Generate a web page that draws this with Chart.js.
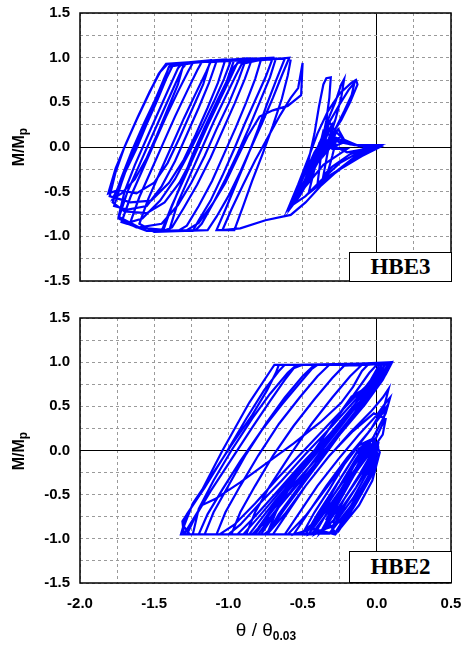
<!DOCTYPE html>
<html>
<head>
<meta charset="utf-8">
<script src="https://cdn.jsdelivr.net/npm/chart.js@4/dist/chart.umd.min.js"></script>
<style>
  body { margin: 0; width: 462px; height: 645px; position: relative; background: #fff; overflow: hidden;
         font-family: "Liberation Sans", Arial, sans-serif; }
  .wrap { position: absolute; left: 0; width: 462px; }
  .wrap canvas { display: block; }
  .ytitle { position: absolute; width: 70px; height: 20px; line-height: 20px; text-align: center;
            font-weight: bold; font-size: 16px; transform: rotate(-90deg); }
  .ytitle sub { font-size: 12px; vertical-align: -3px; }
  .tag { position: absolute; left: 349px; width: 103px; box-sizing: border-box; border: 1.5px solid #000;
         background: #fff; text-align: center; font: bold 23px "Liberation Serif", "Times New Roman", serif; }
  .xtitle { position: absolute; left: 166px; width: 200px; top: 619px; text-align: center; font-size: 19px; }
  .xtitle sub { font-size: 12px; font-weight: bold; vertical-align: -4px; }
</style>
</head>
<body>
<div class="wrap" style="top:0;height:300px"><canvas id="hbe3" width="462" height="300"></canvas></div>
<div class="wrap" style="top:300px;height:345px"><canvas id="hbe2" width="462" height="345"></canvas></div>
<div class="ytitle" style="left:-16px;top:137px">M/M<sub>p</sub></div>
<div class="ytitle" style="left:-16px;top:441px">M/M<sub>p</sub></div>
<div class="tag" id="tag3" style="top:252px;height:30px;line-height:28px"></div>
<div class="tag" id="tag2" style="top:551px;height:32px;line-height:30px"></div>
<div class="xtitle">θ / θ<sub>0.03</sub></div>
<script>
// axis ranges and ticks
const xRange = [-2.0, 0.5];
const yRange = [-1.5, 1.5];
const gridStep = 0.25;
const labelStep = 0.5;
const panelNames = ['HBE3', 'HBE2'];

// HBE3: theta/theta0.03 vs M/Mp (small cycles first)
const hbe3Early = [
  [0.03,0.01],[-0.06,0.00],[-0.18,-0.08],[-0.30,-0.22],[-0.36,-0.32],[-0.33,-0.05],[-0.30,0.12],[-0.26,0.20],[-0.22,0.08],[-0.12,0.01],[0.00,0.01],
  [-0.14,-0.10],[-0.28,-0.28],[-0.40,-0.42],[-0.38,-0.15],[-0.35,0.10],[-0.32,0.28],[-0.28,0.18],[-0.20,0.04],[-0.08,0.00],[0.02,0.00],
  [-0.10,-0.10],[-0.22,-0.22],[-0.34,-0.34],[-0.30,-0.10],[-0.27,0.10],[-0.18,0.03],[-0.06,0.01],[0.02,0.01],
  [-0.16,-0.14],[-0.32,-0.34],[-0.46,-0.52],[-0.42,-0.25],[-0.38,0.05],[-0.33,0.30],[-0.28,0.50],[-0.24,0.70],[-0.22,0.76],[-0.24,0.55],[-0.28,0.30],[-0.32,0.10],[-0.38,-0.10],[-0.45,-0.35],[-0.52,-0.55],[-0.58,-0.68],
  [-0.52,-0.45],[-0.46,-0.15],[-0.42,0.15],[-0.39,0.45],[-0.36,0.70],[-0.34,0.77],[-0.31,0.78],[-0.32,0.55],[-0.34,0.30],[-0.37,0.05],[-0.42,-0.20],[-0.50,-0.45],[-0.58,-0.66],[-0.60,-0.70],
  [-0.53,-0.42],[-0.46,-0.12],[-0.40,0.15],[-0.33,0.40],[-0.25,0.60],[-0.17,0.72],[-0.14,0.75],[-0.13,0.70],[-0.18,0.50],[-0.24,0.30],[-0.30,0.15],[-0.26,0.06],[-0.15,0.02],[0.02,0.02],
  [-0.12,-0.06],[-0.25,-0.18],[-0.38,-0.38],[-0.48,-0.55],[-0.56,-0.64],[-0.48,-0.35],[-0.41,-0.05],[-0.34,0.22],[-0.26,0.45],[-0.19,0.64],[-0.15,0.72],[-0.17,0.58],[-0.22,0.40],[-0.28,0.20],[-0.34,0.05],[-0.30,-0.02],[-0.20,-0.02],[-0.36,-0.20],[-0.46,-0.40],[-0.56,-0.60],[-0.60,-0.72],
  [-0.52,-0.50],[-0.44,-0.22],[-0.36,0.10],[-0.30,0.22],[-0.34,0.00],[-0.40,-0.18],[-0.34,0.16],[-0.28,0.08],[-0.36,-0.08],[-0.44,-0.28],[-0.52,-0.52],[-0.60,-0.70],
  [-0.50,-0.36],[-0.42,-0.06],[-0.32,0.20],[-0.36,0.02],[-0.28,0.14],[-0.34,-0.06],[-0.26,0.10],[-0.38,0.06],[-0.30,0.24],[-0.33,-0.02],[-0.24,0.04],[-0.36,0.18],[-0.40,-0.10],[-0.30,0.02],[-0.20,-0.06],[-0.10,-0.03],[0.00,0.00],
  [-0.12,-0.12],[-0.26,-0.26],[-0.38,-0.44],[-0.48,-0.62],[-0.58,-0.76],
  [-0.75,-0.82],[-0.92,-0.91],[-1.04,-0.93]
];
// HBE3: large cycles drifting to the left
const hbe3Late = [
  [-0.98,-0.70],[-0.90,-0.42],[-0.82,-0.15],[-0.73,0.12],[-0.65,0.36],[-0.58,0.55],[-0.53,0.66],[-0.50,0.94],[-0.51,0.58],
  [-0.60,0.46],[-0.70,0.41],[-0.79,0.34],[-0.87,0.12],[-0.94,-0.12],[-1.02,-0.40],[-1.10,-0.62],[-1.20,-0.85],[-1.28,-0.93],[-1.45,-0.94],
  [-1.38,-0.65],[-1.30,-0.36],[-1.22,-0.06],[-1.14,0.24],[-1.06,0.52],[-0.99,0.76],[-0.94,0.94],[-0.80,0.97],[-0.65,0.99],[-0.59,1.00],
  [-0.64,0.80],[-0.70,0.55],[-0.77,0.28],[-0.84,0.02],[-0.92,-0.28],[-1.00,-0.55],[-1.08,-0.78],[-1.14,-0.93],[-1.50,-0.95],
  [-1.60,-0.86],[-1.54,-0.58],[-1.46,-0.28],[-1.38,0.02],[-1.30,0.32],[-1.22,0.60],[-1.15,0.84],[-1.12,0.95],[-0.90,0.98],[-0.70,1.00],
  [-0.75,0.78],[-0.82,0.52],[-0.89,0.26],[-0.96,-0.02],[-1.04,-0.32],[-1.12,-0.60],[-1.20,-0.82],[-1.24,-0.94],[-1.40,-0.94],
  [-1.34,-0.62],[-1.26,-0.32],[-1.18,-0.02],[-1.10,0.28],[-1.02,0.56],[-0.95,0.80],[-0.91,0.93],[-0.80,0.97],[-0.68,0.99],
  [-0.72,0.78],[-0.79,0.50],[-0.86,0.22],[-0.94,-0.08],[-1.02,-0.36],[-1.10,-0.62],[-1.18,-0.86],[-1.22,-0.93],[-1.55,-0.94],
  [-1.68,-0.86],[-1.72,-0.84],
  [-1.66,-0.56],[-1.58,-0.26],[-1.50,0.04],[-1.42,0.34],[-1.34,0.62],[-1.27,0.85],[-1.24,0.94],[-1.05,0.97],[-0.88,0.99],
  [-0.93,0.76],[-1.00,0.48],[-1.08,0.20],[-1.16,-0.10],[-1.25,-0.40],[-1.34,-0.65],[-1.45,-0.86],[-1.60,-0.90],[-1.74,-0.78],
  [-1.70,-0.50],[-1.63,-0.20],[-1.55,0.10],[-1.47,0.40],[-1.40,0.66],[-1.34,0.88],[-1.31,0.94],[-1.10,0.96],[-0.96,0.98],
  [-1.01,0.74],[-1.08,0.46],[-1.16,0.18],[-1.24,-0.12],[-1.33,-0.40],[-1.43,-0.62],[-1.55,-0.74],[-1.70,-0.72],[-1.78,-0.62],
  [-1.72,-0.34],[-1.65,-0.04],[-1.57,0.26],[-1.49,0.54],[-1.43,0.78],[-1.39,0.93],[-1.20,0.96],[-1.02,0.98],
  [-1.07,0.72],[-1.14,0.44],[-1.22,0.14],[-1.30,-0.14],[-1.40,-0.40],[-1.52,-0.60],[-1.66,-0.62],[-1.80,-0.55],
  [-1.76,-0.28],[-1.70,0.00],[-1.62,0.30],[-1.54,0.58],[-1.47,0.82],[-1.42,0.93],[-1.25,0.95],[-1.12,0.97],
  [-1.17,0.70],[-1.25,0.40],[-1.33,0.10],[-1.41,-0.18],[-1.50,-0.40],[-1.62,-0.52],[-1.74,-0.48],[-1.81,-0.52],
  [-1.76,-0.24],[-1.69,0.04],[-1.61,0.34],[-1.53,0.62],[-1.46,0.84],[-1.41,0.93],[-1.30,0.94],
  [-1.34,0.70],[-1.41,0.42],[-1.48,0.14],[-1.55,-0.12],[-1.63,-0.36],[-1.72,-0.52],[-1.78,-0.58],
  [-1.70,-0.30],[-1.62,-0.02],[-1.55,0.26],[-1.48,0.52],[-1.42,0.76],[-1.37,0.93],[-1.15,0.96],[-0.98,0.98],
  [-1.03,0.76],[-1.10,0.50],[-1.18,0.22],[-1.27,-0.08],[-1.36,-0.36],[-1.46,-0.60],[-1.58,-0.80],[-1.66,-0.84],
  [-1.60,-0.56],[-1.52,-0.26],[-1.44,0.04],[-1.36,0.34],[-1.28,0.62],[-1.21,0.86],[-1.18,0.95],[-0.95,0.98],[-0.84,0.99],
  [-0.89,0.76],[-0.96,0.48],[-1.04,0.18],[-1.12,-0.12],[-1.21,-0.42],[-1.30,-0.68],[-1.38,-0.90],[-1.44,-0.94],
  [-1.38,-0.66],[-1.31,-0.38],[-1.24,-0.08],[-1.16,0.22],[-1.08,0.50],[-1.01,0.74],[-0.96,0.90],[-0.93,0.95],[-0.78,0.98],
  [-0.82,0.76],[-0.88,0.50],[-0.95,0.22],[-1.03,-0.08],[-1.11,-0.38],[-1.20,-0.66],[-1.28,-0.88],[-1.34,-0.94],[-1.62,-0.90],
  [-1.74,-0.80],[-1.68,-0.50],[-1.60,-0.20],[-1.52,0.10],[-1.44,0.40],[-1.37,0.66],[-1.31,0.88],[-1.28,0.94],[-1.08,0.96],
  [-1.13,0.72],[-1.20,0.44],[-1.28,0.14],[-1.36,-0.16],[-1.45,-0.44],[-1.55,-0.66],[-1.68,-0.70],[-1.77,-0.66],
  [-1.72,-0.40],[-1.66,-0.12],[-1.58,0.18],[-1.50,0.48],[-1.44,0.72],[-1.40,0.90],[-1.20,0.95],[-0.62,0.99],
  [-0.68,0.74],[-0.74,0.48],[-0.80,0.20],[-0.87,-0.10],[-0.95,-0.42],[-1.02,-0.70],[-1.08,-0.93],[-0.96,-0.93],
  [-0.90,-0.66],[-0.84,-0.38],[-0.77,-0.08],[-0.70,0.24],[-0.64,0.54],[-0.60,0.80],[-0.58,0.98]
];

// HBE2: dense small cycles near the origin
const hbe2Early = [
  [0.00,0.00],[-0.06,-0.20],[-0.14,-0.42],[-0.24,-0.66],[-0.30,-0.82],[-0.22,-0.55],[-0.12,-0.28],[-0.04,-0.05],[0.01,0.06],
  [-0.08,-0.20],[-0.20,-0.50],[-0.32,-0.80],[-0.36,-0.90],[-0.26,-0.60],[-0.16,-0.30],[-0.08,-0.06],[-0.02,0.10],
  [-0.04,-0.12],[-0.14,-0.42],[-0.26,-0.74],[-0.38,-0.93],[-0.28,-0.62],[-0.18,-0.32],[-0.10,-0.08],[-0.05,0.10],
  [0.00,-0.10],[-0.08,-0.40],[-0.20,-0.72],[-0.28,-0.93],[-0.34,-0.78],[-0.24,-0.48],[-0.14,-0.20],[-0.06,0.04],[0.01,0.08],
  [-0.02,-0.18],[-0.12,-0.48],[-0.24,-0.80],[-0.42,-0.95],[-0.32,-0.66],[-0.22,-0.38],[-0.13,-0.10],[-0.06,0.08],[0.00,0.04],
  [-0.06,-0.24],[-0.16,-0.54],[-0.30,-0.86],[-0.46,-0.95],[-0.36,-0.68],[-0.25,-0.40],[-0.15,-0.12],[-0.08,0.06],[-0.03,0.12],
  [0.01,-0.06],[-0.04,-0.30],[-0.14,-0.60],[-0.26,-0.92],[-0.48,-0.95],[-0.40,-0.72],[-0.30,-0.46],[-0.20,-0.20],[-0.12,0.02],[-0.04,0.12],[0.01,0.04],
  [-0.06,-0.30],[-0.18,-0.64],[-0.32,-0.94],[-0.50,-0.94],[-0.42,-0.70],[-0.32,-0.44],[-0.22,-0.16],[-0.12,0.06],[-0.02,0.14],[0.02,-0.02],
  [-0.03,-0.34],[-0.12,-0.62],[-0.28,-0.95],[-0.44,-0.88],[-0.34,-0.60],[-0.24,-0.30],[-0.14,-0.04],[-0.05,0.10]
];
// HBE2: medium cycles reaching the right-hand peaks
const hbe2Mid = [
  [-0.14,-0.20],[-0.30,-0.58],[-0.46,-0.90],[-0.56,-0.95],[-0.46,-0.70],[-0.34,-0.40],[-0.20,-0.08],[-0.06,0.20],[0.03,0.40],[0.06,0.48],[0.04,0.30],[-0.04,0.02],[-0.16,-0.30],[-0.32,-0.68],[-0.44,-0.95],[-0.62,-0.95],
  [-0.52,-0.70],[-0.40,-0.40],[-0.26,-0.10],[-0.12,0.18],[0.00,0.40],[0.06,0.54],[0.09,0.60],[0.06,0.42],[-0.02,0.16],[-0.14,-0.14],[-0.28,-0.48],[-0.44,-0.84],[-0.52,-0.95],[-0.70,-0.95],
  [-0.60,-0.70],[-0.48,-0.40],[-0.34,-0.10],[-0.18,0.20],[-0.04,0.44],[0.04,0.60],[0.08,0.70],[0.05,0.50],[-0.04,0.24],[-0.18,-0.06],[-0.32,-0.38],[-0.48,-0.74],[-0.60,-0.95],[-0.74,-0.95],
  [-0.62,-0.72],[-0.48,-0.40],[-0.32,-0.06],[-0.16,0.22],[-0.02,0.42],[0.06,0.36],[0.04,0.18],[-0.06,-0.06],[-0.20,-0.38],[-0.36,-0.72],[-0.46,-0.95],[-0.74,-0.95]
];
// HBE2: large cycles between the plateaus
const hbe2Late = [
  [-0.68,-0.70],[-0.58,-0.40],[-0.44,-0.05],[-0.30,0.30],[-0.16,0.62],[-0.05,0.88],[0.00,0.97],[0.08,0.98],
  [0.04,0.84],[-0.06,0.62],[-0.20,0.32],[-0.36,-0.02],[-0.52,-0.40],[-0.66,-0.72],[-0.74,-0.95],[-0.88,-0.95],
  [-0.82,-0.70],[-0.72,-0.40],[-0.58,-0.04],[-0.44,0.30],[-0.30,0.60],[-0.18,0.84],[-0.10,0.97],[0.06,0.98],[0.10,1.00],
  [0.06,0.86],[-0.04,0.64],[-0.18,0.34],[-0.32,0.02],[-0.48,-0.34],[-0.62,-0.66],[-0.72,-0.90],[-0.76,-0.95],[-0.98,-0.95],
  [-0.92,-0.70],[-0.82,-0.40],[-0.70,-0.06],[-0.56,0.28],[-0.42,0.58],[-0.30,0.82],[-0.22,0.96],[0.02,0.98],[0.08,0.99],
  [0.02,0.82],[-0.10,0.58],[-0.24,0.28],[-0.40,-0.06],[-0.56,-0.42],[-0.70,-0.72],[-0.80,-0.95],[-1.08,-0.95],
  [-1.02,-0.70],[-0.92,-0.40],[-0.80,-0.06],[-0.66,0.30],[-0.52,0.60],[-0.40,0.84],[-0.32,0.97],[0.00,0.98],[0.10,0.99],
  [0.04,0.80],[-0.08,0.52],[-0.24,0.20],[-0.42,-0.12],[-0.60,-0.46],[-0.74,-0.76],[-0.82,-0.95],[-1.16,-0.95],
  [-1.10,-0.70],[-1.00,-0.40],[-0.88,-0.04],[-0.74,0.32],[-0.62,0.60],[-0.50,0.84],[-0.42,0.97],[-0.10,0.98],[0.06,0.99],
  [0.00,0.80],[-0.12,0.54],[-0.28,0.22],[-0.46,-0.10],[-0.64,-0.44],[-0.80,-0.76],[-0.90,-0.95],[-1.24,-0.95],
  [-1.20,-0.66],[-1.10,-0.34],[-0.98,0.00],[-0.84,0.36],[-0.72,0.64],[-0.60,0.88],[-0.54,0.97],[-0.20,0.98],[0.04,0.99],
  [-0.02,0.78],[-0.16,0.50],[-0.32,0.18],[-0.50,-0.14],[-0.68,-0.48],[-0.84,-0.78],[-0.94,-0.95],[-1.30,-0.95],
  [-1.31,-0.80],[-1.20,-0.52],[-1.04,0.00],[-0.86,0.54],[-0.71,0.92],[-0.69,0.97],[-0.30,0.97],[0.10,1.00],
  [0.04,0.82],[-0.17,0.61],[-0.30,0.30],[-0.42,0.00],[-0.54,-0.28],[-0.64,-0.56],[-0.72,-0.80],[-0.78,-0.95],[-1.32,-0.95],
  [-1.28,-0.72],[-1.16,-0.42],[-1.02,-0.04],[-0.88,0.36],[-0.76,0.68],[-0.66,0.90],[-0.62,0.97],[-0.20,0.97],[0.06,0.98],
  [0.00,0.84],[-0.14,0.62],[-0.30,0.34],[-0.48,0.02],[-0.66,-0.30],[-0.82,-0.60],[-0.96,-0.84],[-1.06,-0.95],[-1.30,-0.95],
  [-1.18,-0.62],[-1.09,-0.55],[-0.92,-0.36],[-0.74,-0.14],[-0.56,0.08],[-0.38,0.32],[-0.24,0.54],[-0.16,0.72],[-0.10,0.90],[-0.06,0.97],[0.02,0.98],
  [-0.04,0.80],[-0.14,0.58],[-0.30,0.28],[-0.48,-0.04],[-0.64,-0.34],[-0.80,-0.62],[-0.92,-0.84],[-1.00,-0.95],[-1.28,-0.95],
  [-1.22,-0.74],[-1.12,-0.46],[-0.98,-0.10],[-0.84,0.26],[-0.72,0.56],[-0.62,0.80],[-0.56,0.93],[-0.50,0.97],[-0.10,0.98],[0.08,0.99],
  [0.05,0.88],[-0.02,0.70],[-0.12,0.46],[-0.26,0.16],[-0.42,-0.16],[-0.58,-0.48],[-0.72,-0.76],[-0.84,-0.95],[-1.20,-0.95],
  [-1.14,-0.72],[-1.04,-0.44],[-0.92,-0.12],[-0.78,0.22],[-0.64,0.52],[-0.52,0.76],[-0.44,0.92],[-0.40,0.97],[0.04,0.98],
  [0.00,0.88],[-0.08,0.68],[-0.20,0.40],[-0.36,0.08],[-0.52,-0.24],[-0.68,-0.56],[-0.80,-0.82],[-0.86,-0.95],[-1.26,-0.95],
  [-1.30,-0.86],[-1.24,-0.60],[-1.12,-0.30],[-0.98,0.06],[-0.84,0.40],[-0.74,0.68],[-0.68,0.88],[-0.66,0.97],[-0.20,0.97],[0.10,0.99],
  [0.06,0.86],[-0.08,0.60],[-0.24,0.30],[-0.40,-0.02],[-0.56,-0.34],[-0.70,-0.64],[-0.80,-0.88],[-0.84,-0.95]
];

const toXY = (pts) => pts.map(([x, y]) => ({ x, y }));
const onLabelStep = (v) => Math.abs(v / labelStep - Math.round(v / labelStep)) < 1e-6;
const isZero = (ctx) => ctx.tick && Math.abs(ctx.tick.value) < 1e-9;

const frame = {
  id: 'frame',
  afterDraw(chart) {
    const { ctx, chartArea: a } = chart;
    ctx.save();
    ctx.strokeStyle = '#000';
    ctx.lineWidth = 1.5;
    ctx.strokeRect(a.left, a.top, a.right - a.left, a.bottom - a.top);
    ctx.restore();
  }
};

// keep the plot area where the layout padding puts it
const noLabelPad = (s) => { s.paddingLeft = 0; s.paddingRight = 0; s.paddingTop = 0; s.paddingBottom = 0; };

function makeChart(id, points, topPad, xAxisHeight, showXLabels) {
  const gridOpts = {
    drawTicks: false,
    color: (ctx) => (isZero(ctx) ? '#000' : '#9a9a9a'),
    lineWidth: 1,
  };
  const borderOpts = { display: false, dash: (ctx) => (isZero(ctx) ? [] : [3, 3]) };
  const tickFont = { family: '"Liberation Sans", Arial, sans-serif', size: 15, weight: 'bold' };
  return new Chart(document.getElementById(id), {
    type: 'scatter',
    data: {
      datasets: [{
        data: toXY(points),
        showLine: true,
        borderColor: '#0000ff',
        borderWidth: 2.2,
        pointRadius: 0,
        tension: 0,
      }],
    },
    options: {
      responsive: false,
      animation: false,
      devicePixelRatio: 1,
      layout: { padding: { top: topPad, right: 11, left: 0, bottom: 0 } },
      plugins: { legend: { display: false }, tooltip: { enabled: false } },
      scales: {
        x: {
          type: 'linear', min: xRange[0], max: xRange[1],
          afterFit: (s) => { s.height = xAxisHeight; noLabelPad(s); },
          grid: gridOpts, border: borderOpts,
          ticks: {
            display: showXLabels, stepSize: gridStep, autoSkip: false, maxRotation: 0,
            padding: 12, color: '#000', font: tickFont,
            callback: (v) => (onLabelStep(v) ? Number(v).toFixed(1) : ''),
          },
        },
        y: {
          type: 'linear', min: yRange[0], max: yRange[1],
          afterFit: (s) => { s.width = 80; noLabelPad(s); },
          grid: gridOpts, border: borderOpts,
          ticks: {
            stepSize: gridStep, autoSkip: false, padding: 10, color: '#000', font: tickFont,
            callback: (v) => (onLabelStep(v) ? Number(v).toFixed(1) : ''),
          },
        },
      },
    },
    plugins: [frame],
  });
}

makeChart('hbe3', [...hbe3Early, ...hbe3Late], 13, 19, false);
makeChart('hbe2', [...hbe2Early, ...hbe2Mid, ...hbe2Late], 18, 62, true);
document.getElementById('tag3').textContent = panelNames[0];
document.getElementById('tag2').textContent = panelNames[1];
</script>
</body>
</html>
